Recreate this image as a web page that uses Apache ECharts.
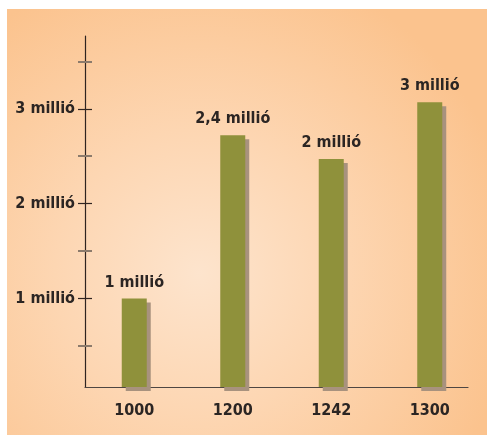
<!DOCTYPE html>
<html>
<head>
<meta charset="utf-8">
<script src="https://cdn.jsdelivr.net/npm/echarts@6/dist/echarts.min.js"></script>
<style>
  html, body { margin: 0; padding: 0; background: #fff; }
  #chart { width: 487px; height: 435px; }
</style>
</head>
<body>
<div id="chart"></div>
<script>
// values in millions
var years = ['1000', '1200', '1242', '1300'];
var population = [1.0, 2.72, 2.47, 3.07];
var valueLabels = ['1 millió', '2,4 millió', '2 millió', '3 millió'];
var majorTicks = [1, 2, 3];
var minorTicks = [0.5, 1.5, 2.5, 3.5];
var tickLabels = ['1 millió', '2 millió', '3 millió'];

var font = '"Arial Narrow", "Liberation Sans Narrow", "DejaVu Sans Condensed", sans-serif';
var yMin = 0.0675, yMax = 3.767;

var chart = echarts.init(document.getElementById('chart'));
chart.setOption({
    backgroundColor: '#ffffff',
    animation: false,
    graphic: [{
        type: 'rect',
        z: -10,
        shape: { x: 7, y: 9, width: 480, height: 426 },
        style: {
            fill: {
                type: 'radial', x: 0.4, y: 0.62, r: 0.75,
                colorStops: [
                    { offset: 0, color: '#fde4cd' },
                    { offset: 0.45, color: '#fdd6b2' },
                    { offset: 1, color: '#fbc38e' }
                ]
            }
        }
    }],
    grid: [
        { left: 85, top: 36, width: 394, bottom: 48 },
        { left: 85, top: 36, width: 383, bottom: 48 }
    ],
    xAxis: [{
        type: 'category',
        gridIndex: 0,
        data: years,
        axisLine: { show: false },
        axisTick: { show: false },
        axisLabel: {
            margin: 16, color: '#2b2523', fontFamily: font,
            fontWeight: 'bold', fontSize: 16
        }
    }, {
        type: 'value',
        gridIndex: 1,
        min: 0, max: 1,
        axisLine: { show: true, lineStyle: { color: '#4e4642', width: 1.2 } },
        axisTick: { show: false },
        axisLabel: { show: false },
        splitLine: { show: false }
    }],
    yAxis: [{
        type: 'value',
        gridIndex: 0,
        min: yMin, max: yMax,
        axisLine: { show: true, lineStyle: { color: '#2f2420', width: 1.2 } },
        axisTick: {
            show: true, length: 7, customValues: majorTicks,
            lineStyle: { color: '#2f2420', width: 1.2 }
        },
        axisLabel: {
            customValues: majorTicks,
            formatter: function (v) { return tickLabels[majorTicks.indexOf(Math.round(v))]; },
            margin: 10, color: '#2b2523', fontFamily: font,
            fontWeight: 'bold', fontSize: 16
        },
        splitLine: { show: false }
    }, {
        type: 'value',
        gridIndex: 0,
        position: 'left',
        min: yMin, max: yMax,
        axisLine: { show: false },
        axisTick: {
            show: true, inside: true, length: 7, customValues: majorTicks,
            lineStyle: { color: '#2f2420', width: 1.2 }
        },
        axisLabel: { show: false },
        splitLine: { show: false }
    }, {
        type: 'value',
        gridIndex: 0,
        position: 'left',
        min: yMin, max: yMax,
        axisLine: { show: false },
        axisTick: {
            show: true, length: 7, customValues: minorTicks,
            lineStyle: { color: '#8c7b6c', width: 2 }
        },
        axisLabel: { show: false },
        splitLine: { show: false }
    }, {
        type: 'value',
        gridIndex: 0,
        position: 'left',
        min: yMin, max: yMax,
        axisLine: { show: false },
        axisTick: {
            show: true, inside: true, length: 7, customValues: minorTicks,
            lineStyle: { color: '#8c7b6c', width: 2 }
        },
        axisLabel: { show: false },
        splitLine: { show: false }
    }, {
        type: 'value',
        gridIndex: 1,
        min: 0, max: 1,
        show: false
    }],
    series: [{
        type: 'bar',
        xAxisIndex: 0,
        yAxisIndex: 0,
        data: population,
        barWidth: 25,
        itemStyle: {
            color: '#8f913b',
            shadowColor: '#a8927e',
            shadowOffsetX: 4,
            shadowOffsetY: 4,
            shadowBlur: 0
        },
        label: {
            show: true,
            position: 'top',
            distance: 8,
            formatter: function (p) { return valueLabels[p.dataIndex]; },
            color: '#2b2523', fontFamily: font,
            fontWeight: 'bold', fontSize: 16
        }
    }]
});
</script>
</body>
</html>
